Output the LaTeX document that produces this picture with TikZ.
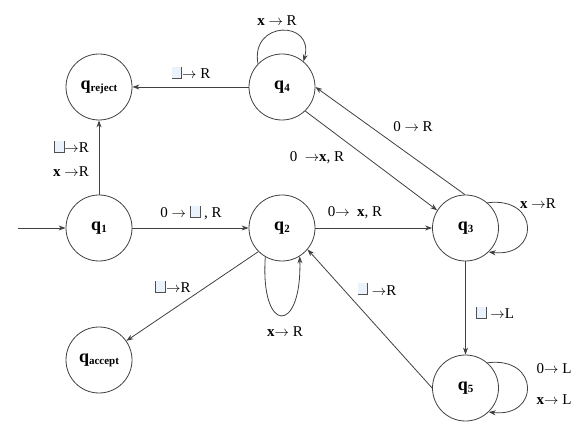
\documentclass[tikz,border=0pt]{standalone}
\usepackage{fontspec}
\setmainfont{Liberation Serif}
\usetikzlibrary{arrows.meta}
\definecolor{edgecol}{HTML}{404040}
\definecolor{blankfill}{HTML}{EAF2FB}
\definecolor{blankline}{HTML}{505050}
\newcommand{\blk}{\mbox{\textcolor{blankline}{\rule{0.8pt}{12pt}}\textcolor{blankfill}{\rule{9pt}{12pt}}\llap{\textcolor{blankline}{\rule{9pt}{0.8pt}}}\textcolor{blankline}{\rule{0.8pt}{12pt}}}}
\newcommand{\stt}[1]{{\fontsize{18}{18}\selectfont\textbf{q}}\raisebox{-2pt}{\fontsize{11}{11}\selectfont\textbf{#1}}}
\newcommand{\arr}{\ensuremath{\rightarrow}}
\tikzset{
  state/.style={circle, draw=edgecol, line width=0.8pt, minimum size=66pt, inner sep=0pt},
  edge/.style={draw=edgecol, line width=0.8pt, -{Stealth[length=7pt,width=5pt]}},
  lbl/.style={font=\fontsize{15}{15}\selectfont, inner sep=0pt}
}
\begin{document}
\begin{tikzpicture}[x=1pt,y=-1pt]
\useasboundingbox (0,0) rectangle (583,443);
\node[state] (qrej) at (99,87) {\stt{reject}};
\node[state] (q4) at (282,87) {\stt{4}};
\node[state] (q1) at (99,228) {\stt{1}};
\node[state] (q2) at (282,228) {\stt{2}};
\node[state] (q3) at (465.5,228) {\stt{3}};
\node[state] (q5) at (465.5,388) {\stt{5}};
\node[state] (qacc) at (99,360) {\stt{accept}};
\coordinate (start) at (18,228);

\draw[edge] (start) -- (q1);
\draw[edge] (q1) -- (qrej);
\draw[edge] (q4) -- (qrej);
\draw[edge] (q1) -- (q2);
\draw[edge] (q2) -- (q3);
\draw[edge] (q3) -- (q5);
\draw[edge] (q4.-46) -- (q3.148);
\draw[edge] (q3.91) -- (q4.0);
\draw[edge] (q5.180) -- (q2.-40);
\draw[edge] (q2.225) -- (qacc.35);
\draw[edge] (q4.136) .. controls (250,20) and (315,20) .. (q4.50);
\draw[edge] (q3.49) .. controls (540,196) and (540,258) .. (q3.-46);
\draw[edge] (q5.49) .. controls (540,356) and (540,418) .. (q5.-46);
\draw[edge] (q2.240) .. controls (260,335) and (302,335) .. (q2.302);

\node[lbl] (l1) at (191,73) {\blk\arr\ R};
\node[lbl, anchor=east] (l2) at (89,147) {\blk\arr R};
\node[lbl, anchor=east] (l3) at (89,172) {\textbf{x} \arr R};
\node[lbl] (l4) at (277,21) {\textbf{x} \arr\ R};
\node[lbl] (l5) at (317,158) {0 \ \arr\textbf{x}, R};
\node[lbl] (l6) at (413,127) {0 \arr\ R};
\node[lbl] (l7) at (191,213) {0 \arr\ \blk\ , R};
\node[lbl] (l8) at (355,213) {0\arr\ \ \textbf{x}, R};
\node[lbl] (l9) at (538,204) {\textbf{x} \arr R};
\node[lbl] (l10) at (377,289) {\blk\ \arr R};
\node[lbl] (l11) at (495,313) {\blk\ \arr L};
\node[lbl] (l12) at (554,369) {0\arr\ L};
\node[lbl] (l13) at (554,400) {\textbf{x}\arr\ L};
\node[lbl] (l14) at (173,287) {\blk\arr R};
\node[lbl] (l15) at (285,332) {\textbf{x}\arr\ R};
\end{tikzpicture}
\end{document}
